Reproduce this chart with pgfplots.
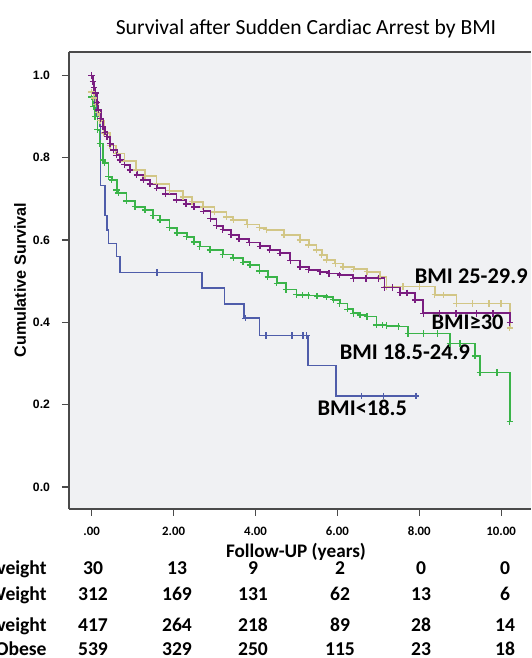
\documentclass[border=0pt]{standalone}
\usepackage{fontspec}
\setmainfont{Carlito}
\newfontfamily\arial{Liberation Sans}
\usepackage{pgfplots}
\pgfplotsset{compat=1.18}
\definecolor{bmiobese}{HTML}{7A1E80}
\definecolor{bmiover}{HTML}{D2C686}
\definecolor{bminormal}{HTML}{3AB449}
\definecolor{bmiunder}{HTML}{4F5DAA}
\definecolor{plotbg}{HTML}{F0F1F3}
\definecolor{framecol}{HTML}{4A4A4A}

\pgfplotsset{km/.style={const plot, line width=0.85pt, mark=+, mark size=1.6pt,
    mark options={solid, line width=0.7pt}}}

\begin{document}
\begin{tikzpicture}
\begin{axis}[
  scale only axis, width=231pt, height=228.5pt,
  xmin=-0.554, xmax=10.73, ymin=-0.0535, ymax=1.057,
  axis x line*=bottom, axis y line*=left,
  axis line style={-, framecol, line width=0.9pt},
  axis background/.style={fill=plotbg},
  tick align=outside, major tick length=3.5pt,
  tick style={framecol, line width=0.6pt},
  xtick={0,2,4,6,8,10}, xticklabels={.00,2.00,4.00,6.00,8.00,10.00},
  ytick={0,0.2,0.4,0.6,0.8,1.0}, yticklabels={0.0,0.2,0.4,0.6,0.8,1.0},
  xticklabel style={font=\bfseries\fontsize{6.4}{7}\selectfont, yshift=-2pt},
  yticklabel style={font=\arial\bfseries\fontsize{6.1}{7}\selectfont, xshift=-2.5pt},
]
\draw[framecol, line width=0.9pt] (rel axis cs:0,1) -- (rel axis cs:1,1);

% BMI 18.5-24.9
\addplot[km, bminormal] coordinates {
  (0,0.948) (0.04,0.925) (0.08,0.900) (0.14,0.868) (0.20,0.835) (0.28,0.795)
  (0.32,0.787) (0.41,0.754) (0.49,0.746) (0.61,0.722) (0.65,0.714) (0.85,0.695)
  (1.06,0.681) (1.30,0.673) (1.50,0.660) (1.67,0.649) (1.90,0.630) (2.08,0.617)
  (2.32,0.608) (2.50,0.595) (2.64,0.584) (2.89,0.576) (3.20,0.565) (3.46,0.556)
  (3.70,0.546) (3.87,0.539) (4.10,0.525) (4.30,0.510) (4.52,0.495) (4.75,0.480)
  (5.00,0.467) (5.15,0.466) (5.30,0.465) (5.50,0.464) (5.74,0.462) (5.90,0.455)
  (6.06,0.446) (6.25,0.432) (6.39,0.422) (6.55,0.418) (6.72,0.414) (6.96,0.394)
  (7.10,0.393) (7.20,0.392) (7.50,0.390) (7.73,0.373) (8.10,0.373) (8.45,0.373)
  (8.75,0.349) (9.00,0.349) (9.36,0.318) (9.48,0.278) (9.90,0.278) (10.21,0.159)
};

% BMI<18.5
\addplot[const plot, bmiunder, line width=0.8pt] coordinates {
  (0,1.000) (0.04,0.967) (0.08,0.933) (0.12,0.900) (0.20,0.876) (0.22,0.733)
  (0.32,0.660) (0.37,0.625) (0.41,0.592) (0.61,0.560) (0.69,0.521) (2.70,0.483)
  (3.24,0.445) (3.72,0.410) (4.10,0.368) (5.28,0.295) (5.97,0.221) (7.92,0.221)
};
\addplot[only marks, bmiunder, mark=+, mark size=1.6pt, mark options={line width=0.7pt}] coordinates {
  (1.60,0.521) (3.75,0.410) (4.26,0.368) (4.89,0.368) (5.16,0.368) (5.25,0.368)
  (6.59,0.221) (7.13,0.221) (7.92,0.221)
};

% BMI 25-29.9
\addplot[km, bmiover] coordinates {
  (0,0.960) (0.05,0.945) (0.10,0.930) (0.15,0.910) (0.20,0.890) (0.30,0.860)
  (0.45,0.830) (0.60,0.810) (0.80,0.792) (1.09,0.770) (1.30,0.755) (1.58,0.737)
  (1.90,0.720) (2.23,0.705) (2.45,0.693) (2.72,0.680) (3.00,0.668) (3.29,0.656)
  (3.46,0.649) (3.80,0.638) (4.10,0.630) (4.27,0.625) (4.70,0.612) (5.09,0.600)
  (5.30,0.588) (5.49,0.576) (5.62,0.564) (5.74,0.552) (5.95,0.543) (6.14,0.535)
  (6.40,0.529) (6.72,0.523) (7.04,0.511) (7.20,0.487) (7.60,0.487) (8.00,0.487)
  (8.38,0.467) (8.60,0.467) (8.91,0.446) (9.30,0.446) (9.70,0.446) (10.00,0.446)
  (10.21,0.386)
};

% BMI>=30
\addplot[km, bmiobese] coordinates {
  (0,1.000) (0.03,0.985) (0.06,0.970) (0.09,0.957) (0.13,0.935) (0.16,0.916)
  (0.22,0.895) (0.28,0.876) (0.33,0.862) (0.37,0.851) (0.45,0.834) (0.53,0.819)
  (0.61,0.806) (0.69,0.795) (0.80,0.783) (0.94,0.770) (1.10,0.758) (1.26,0.746)
  (1.42,0.736) (1.59,0.726) (1.80,0.712) (2.07,0.697) (2.30,0.688) (2.50,0.680)
  (2.73,0.670) (2.90,0.652) (3.05,0.635) (3.20,0.625) (3.40,0.613) (3.60,0.603)
  (3.85,0.594) (4.11,0.585) (4.35,0.576) (4.60,0.568) (4.85,0.550) (5.09,0.535)
  (5.30,0.528) (5.58,0.523) (5.80,0.519) (6.06,0.515) (6.39,0.507) (6.70,0.507)
  (7.00,0.507) (7.15,0.485) (7.35,0.485) (7.53,0.472) (7.70,0.472) (7.90,0.454)
  (8.10,0.422) (8.50,0.422) (8.90,0.422) (9.40,0.422) (9.80,0.422) (10.21,0.399)
};

\begin{scope}[every node/.style={font=\bfseries\fontsize{11.2}{13}\selectfont, inner sep=0pt}]
\node at (axis cs:9.27,0.513) {BMI 25-29.9};
\node at (axis cs:9.18,0.401) {BMI≥30};
\node at (axis cs:7.65,0.328) {BMI 18.5-24.9};
\node at (axis cs:6.61,0.192) {BMI<18.5};
\end{scope}
\end{axis}

\node[font=\fontsize{10.8}{12}\selectfont] at (118.5pt,240pt) {Survival after Sudden Cardiac Arrest by BMI};
\node[rotate=90, font=\arial\bfseries\fontsize{8.1}{9}\selectfont] at (-24.5pt,114.5pt) {Cumulative Survival};
\node[font=\bfseries\fontsize{9.6}{11}\selectfont] at (113.5pt,-21.4pt) {Follow-UP (years)};

\begin{scope}[every node/.style={font=\bfseries\fontsize{9.8}{11}\selectfont, inner sep=0pt, anchor=base}]
\foreach \lab/\y/\a/\b/\c/\d/\e/\f in {
  Underweight/-32.7/30/13/9/2/0/0,
  Normal Weight/-45.8/312/169/131/62/13/6,
  Overweight/-61.0/417/264/218/89/28/14,
  Obese/-73.4/539/329/250/115/23/18}{
  \node[anchor=base east] at (-11pt,\y pt) {\lab};
  \node at (12pt,\y pt) {\a};
  \node at (54pt,\y pt) {\b};
  \node at (92pt,\y pt) {\c};
  \node at (135.5pt,\y pt) {\d};
  \node at (176pt,\y pt) {\e};
  \node at (218pt,\y pt) {\f};
}
\end{scope}

\pgfresetboundingbox
\useasboundingbox (-34.5pt,-74.5pt) rectangle (231pt,254.5pt);
\end{tikzpicture}
\end{document}
